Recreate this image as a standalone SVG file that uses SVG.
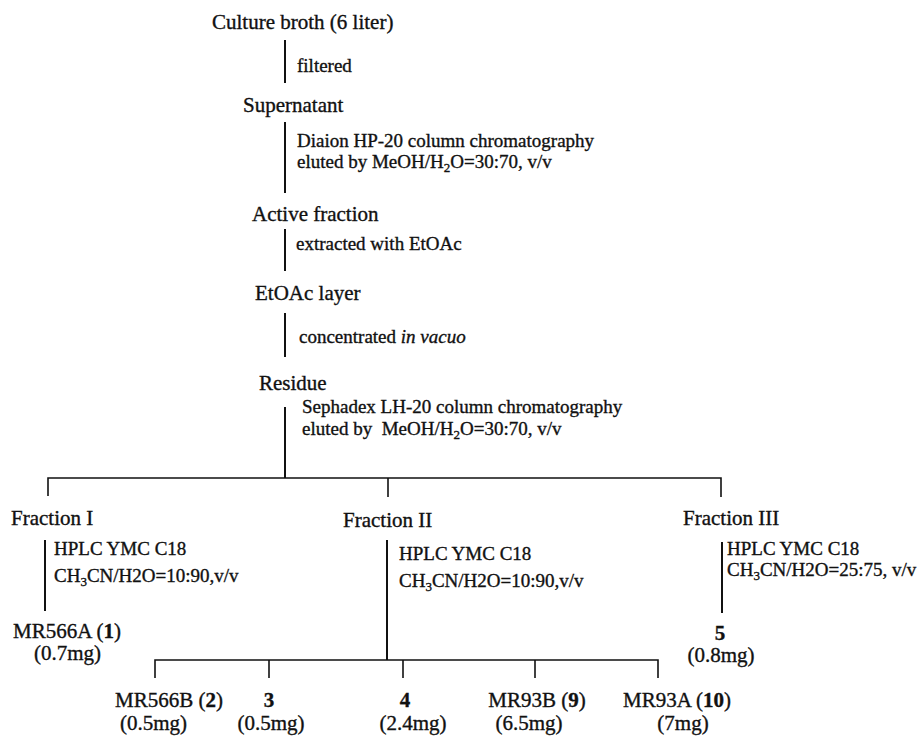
<svg xmlns="http://www.w3.org/2000/svg" width="917" height="738" viewBox="0 0 917 738">
<style>
text{font-family:"Liberation Serif","Times New Roman",serif;fill:#111;stroke:#111;stroke-width:0.35}
.m{font-size:21px}
.s{font-size:19px}
.b{font-weight:bold}
.sub{font-size:13px}
.ln{stroke:#111;fill:none}
.v{stroke-width:2}
.h{stroke-width:1.6}
</style>
<rect width="917" height="738" fill="#fff"/>
<g id="connectors">
<line class="ln v" x1="285" y1="40" x2="285" y2="83"/>
<line class="ln v" x1="285" y1="122" x2="285" y2="193"/>
<line class="ln v" x1="285" y1="229" x2="285" y2="271"/>
<line class="ln v" x1="285" y1="313" x2="285" y2="357"/>
<line class="ln v" x1="285" y1="407" x2="285" y2="478"/>
<polyline class="ln h" points="48,496 48,478 721,478 721,497"/>
<line class="ln h" x1="388" y1="478" x2="388" y2="497"/>
<line class="ln v" x1="45" y1="540" x2="45" y2="611"/>
<line class="ln v" x1="387" y1="540" x2="387" y2="660"/>
<line class="ln v" x1="722" y1="542" x2="722" y2="613"/>
<polyline class="ln h" points="155,678 155,660 658,660 658,678"/>
<line class="ln h" x1="269" y1="660" x2="269" y2="678"/>
<line class="ln h" x1="403" y1="660" x2="403" y2="678"/>
<line class="ln h" x1="535" y1="660" x2="535" y2="678"/>
</g>
<g id="culture"><text class="m" x="212" y="29">Culture broth (6 liter)</text></g>
<g id="step-filter"><text class="s" x="297" y="72">filtered</text></g>
<g id="supernatant"><text class="m" x="243" y="112">Supernatant</text></g>
<g id="step-diaion">
<text class="s" x="297" y="147">Diaion HP-20 column chromatography</text>
<text class="s" x="297" y="168">eluted by MeOH/H<tspan class="sub" dy="4">2</tspan><tspan dy="-4">O=30:70, v/v</tspan></text>
</g>
<g id="active"><text class="m" x="252" y="221">Active fraction</text></g>
<g id="step-extract"><text class="s" x="296" y="250">extracted with EtOAc</text></g>
<g id="etoac"><text class="m" x="255" y="300">EtOAc layer</text></g>
<g id="step-conc"><text class="s" x="299" y="343">concentrated <tspan font-style="italic">in vacuo</tspan></text></g>
<g id="residue"><text class="m" x="259" y="390">Residue</text></g>
<g id="step-sephadex">
<text class="s" x="302" y="413">Sephadex LH-20 column chromatography</text>
<text class="s" x="302" y="435" xml:space="preserve">eluted by  MeOH/H<tspan class="sub" dy="4">2</tspan><tspan dy="-4">O=30:70, v/v</tspan></text>
</g>
<g id="fraction1"><text class="m" x="11" y="525">Fraction I</text></g>
<g id="fraction2"><text class="m" x="343" y="527">Fraction II</text></g>
<g id="fraction3"><text class="m" x="683" y="525">Fraction III</text></g>
<g id="step-hplc1">
<text class="s" x="54" y="555">HPLC YMC C18</text>
<text class="s" x="54" y="582">CH<tspan class="sub" dy="4">3</tspan><tspan dy="-4">CN/H2O=10:90,v/v</tspan></text>
</g>
<g id="step-hplc2">
<text class="s" x="399" y="560">HPLC YMC C18</text>
<text class="s" x="399" y="587">CH<tspan class="sub" dy="4">3</tspan><tspan dy="-4">CN/H2O=10:90,v/v</tspan></text>
</g>
<g id="step-hplc3">
<text class="s" x="727" y="555">HPLC YMC C18</text>
<text class="s" x="727" y="576">CH<tspan class="sub" dy="4">3</tspan><tspan dy="-4">CN/H2O=25:75, v/v</tspan></text>
</g>
<g id="mr566a">
<text class="m" x="13" y="638">MR566A (<tspan class="b">1</tspan>)</text>
<text class="m" x="34" y="660">(0.7mg)</text>
</g>
<g id="c5">
<text class="m b" x="720" y="640" text-anchor="middle">5</text>
<text class="m" x="721" y="662" text-anchor="middle">(0.8mg)</text>
</g>
<g id="mr566b">
<text class="m" x="115" y="707">MR566B (<tspan class="b">2</tspan>)</text>
<text class="m" x="120" y="730">(0.5mg)</text>
</g>
<g id="c3">
<text class="m b" x="269" y="707" text-anchor="middle">3</text>
<text class="m" x="271" y="730" text-anchor="middle">(0.5mg)</text>
</g>
<g id="c4">
<text class="m b" x="405" y="707" text-anchor="middle">4</text>
<text class="m" x="413" y="730" text-anchor="middle">(2.4mg)</text>
</g>
<g id="mr93b">
<text class="m" x="537" y="707" text-anchor="middle">MR93B (<tspan class="b">9</tspan>)</text>
<text class="m" x="529" y="730" text-anchor="middle">(6.5mg)</text>
</g>
<g id="mr93a">
<text class="m" x="677" y="707" text-anchor="middle">MR93A (<tspan class="b">10</tspan>)</text>
<text class="m" x="683" y="730" text-anchor="middle">(7mg)</text>
</g>
</svg>
